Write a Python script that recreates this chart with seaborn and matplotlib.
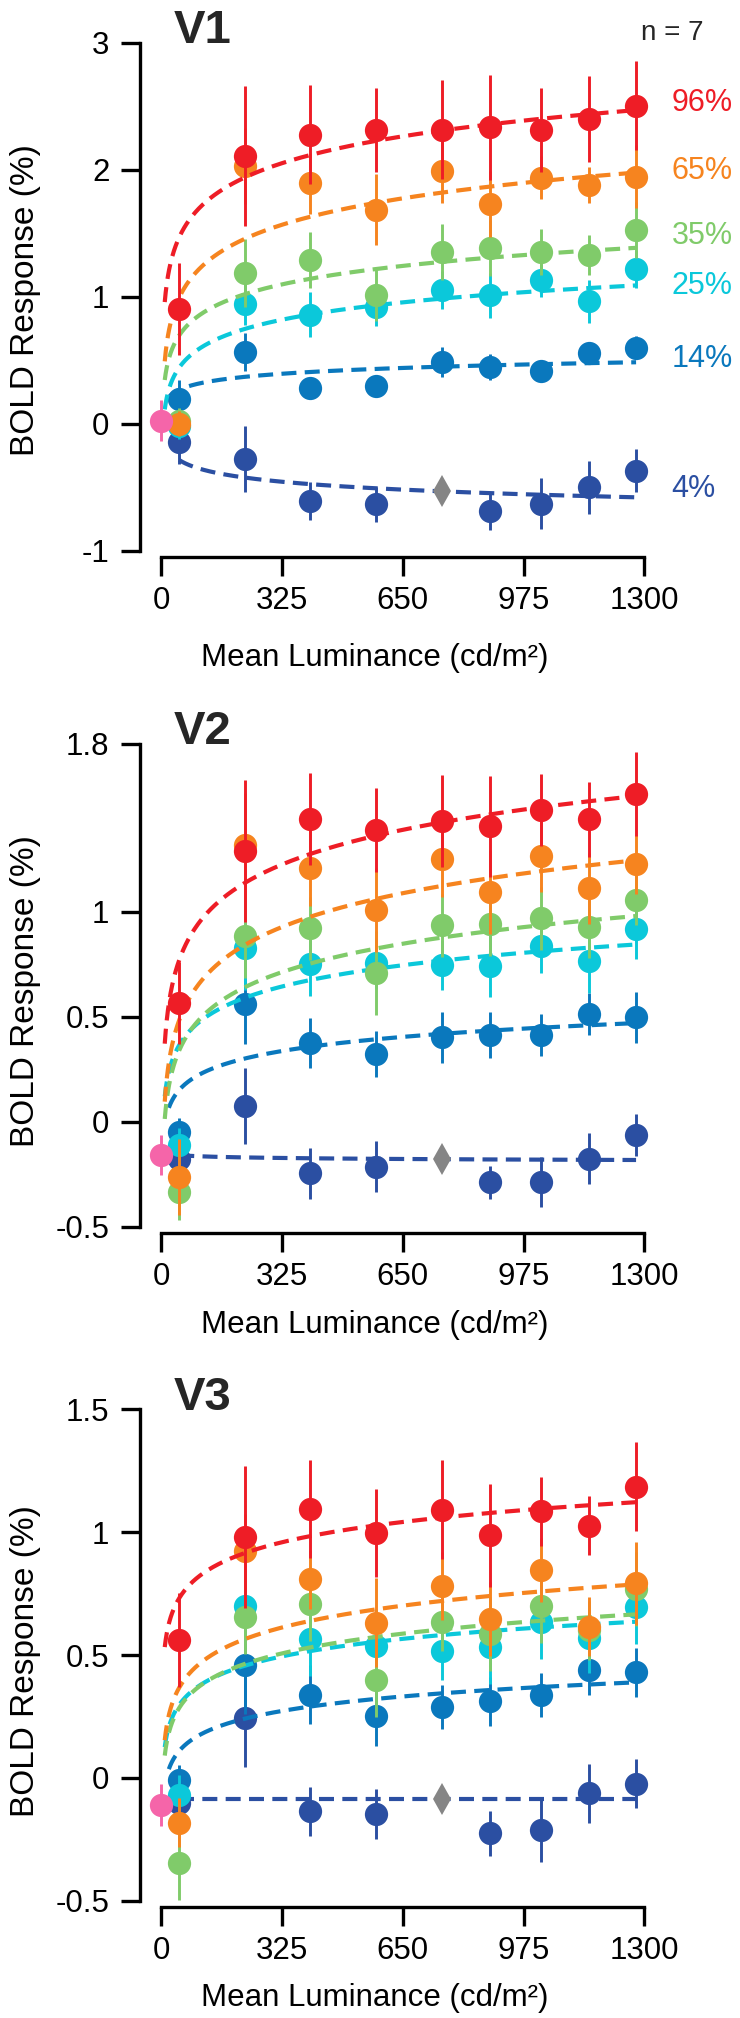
import numpy as np
import seaborn as sns
import matplotlib.pyplot as plt

# luminance levels (cd/m2) of the measured points
lum = [48, 225, 401, 578, 756, 884, 1022, 1150, 1278]
contrasts = ["4%", "14%", "25%", "35%", "65%", "96%"]
colors = ["#2B4FA2", "#0A78BD", "#0BC8DA", "#80CB6A", "#F6841F", "#EE1D26"]
nan = np.nan

# V1 mean BOLD response (%) per contrast, and SEM
v1_mean = [
    [-0.145, -0.276, -0.61, -0.635, nan, -0.688, -0.63, -0.50, -0.37],
    [0.197, 0.564, 0.283, 0.294, 0.485, 0.448, 0.417, 0.555, 0.60],
    [-0.02, 0.945, 0.86, 0.918, 1.05, 1.01, 1.13, 0.965, 1.218],
    [0.02, 1.186, 1.29, 1.01, 1.35, 1.385, 1.355, 1.328, 1.527],
    [0.0, 2.03, 1.895, 1.685, 1.99, 1.73, 1.936, 1.88, 1.945],
    [0.905, 2.107, 2.275, 2.31, 2.315, 2.333, 2.31, 2.40, 2.505],
]
v1_err = [
    [0.17, 0.26, 0.15, 0.14, nan, 0.15, 0.2, 0.21, 0.17],
    [0.15, 0.15, 0.05, 0.05, 0.12, 0.1, 0.07, 0.08, 0.09],
    [0.1, 0.17, 0.18, 0.15, 0.15, 0.18, 0.13, 0.17, 0.15],
    [0.1, 0.27, 0.22, 0.2, 0.22, 0.22, 0.18, 0.16, 0.22],
    [0.1, 0.3, 0.24, 0.28, 0.25, 0.26, 0.17, 0.14, 0.25],
    [0.36, 0.55, 0.39, 0.33, 0.39, 0.41, 0.33, 0.34, 0.35],
]

# V2
v2_mean = [
    [-0.175, 0.075, -0.246, -0.214, nan, -0.289, -0.286, -0.175, -0.063],
    [-0.05, 0.559, 0.376, 0.322, 0.402, 0.413, 0.413, 0.513, 0.497],
    [-0.111, 0.826, 0.75, 0.754, 0.746, 0.743, 0.837, 0.765, 0.916],
    [-0.333, 0.884, 0.921, 0.71, 0.937, 0.94, 0.969, 0.929, 1.056],
    [-0.262, 1.317, 1.21, 1.008, 1.252, 1.095, 1.265, 1.111, 1.227],
    [0.564, 1.29, 1.441, 1.389, 1.433, 1.408, 1.484, 1.44, 1.56],
]
v2_err = [
    [0.08, 0.18, 0.12, 0.12, nan, 0.08, 0.12, 0.12, 0.1],
    [0.07, 0.19, 0.12, 0.11, 0.12, 0.11, 0.1, 0.1, 0.12],
    [0.08, 0.2, 0.15, 0.12, 0.12, 0.15, 0.13, 0.15, 0.14],
    [0.135, 0.2, 0.15, 0.2, 0.15, 0.15, 0.15, 0.15, 0.12],
    [0.18, 0.25, 0.18, 0.2, 0.18, 0.2, 0.17, 0.17, 0.14],
    [0.195, 0.337, 0.22, 0.2, 0.22, 0.24, 0.17, 0.18, 0.2],
]

# V3
v3_mean = [
    [-0.104, 0.245, -0.135, -0.147, nan, -0.226, -0.212, -0.063, -0.023],
    [-0.007, 0.46, 0.339, 0.25, 0.288, 0.312, 0.339, 0.439, 0.43],
    [-0.07, 0.70, 0.565, 0.538, 0.518, 0.531, 0.636, 0.568, 0.696],
    [-0.345, 0.653, 0.707, 0.399, 0.636, 0.585, 0.70, 0.60, 0.77],
    [-0.182, 0.923, 0.808, 0.632, 0.781, 0.646, 0.846, 0.615, 0.792],
    [0.561, 0.981, 1.094, 0.997, 1.092, 0.988, 1.085, 1.027, 1.186],
]
v3_err = [
    [0.1, 0.2, 0.1, 0.1, nan, 0.09, 0.13, 0.12, 0.1],
    [0.06, 0.2, 0.12, 0.12, 0.09, 0.1, 0.09, 0.1, 0.1],
    [0.08, 0.15, 0.15, 0.15, 0.12, 0.15, 0.15, 0.14, 0.15],
    [0.15, 0.15, 0.15, 0.15, 0.12, 0.15, 0.15, 0.12, 0.15],
    [0.1, 0.15, 0.12, 0.18, 0.14, 0.15, 0.13, 0.12, 0.17],
    [0.19, 0.29, 0.2, 0.18, 0.2, 0.21, 0.14, 0.12, 0.18],
]

# log fits: y = a + b * ln(L)
fit_start = [48, 20, 9, 9, 9, 9]
v1_fit_a = [0.06, 0.012, -0.32, -0.117, -0.168, 0.288]
v1_fit_b = [-0.0894, 0.066, 0.197, 0.21, 0.30, 0.305]
v2_fit_a = [-0.132, -0.224, -0.2, -0.415, -0.414, -0.151]
v2_fit_b = [-0.007, 0.097, 0.146, 0.195, 0.232, 0.238]
v3_fit_a = [-0.084, -0.219, -0.101, -0.164, -0.128, 0.271]
v3_fit_b = [0.0, 0.085, 0.103, 0.116, 0.128, 0.119]

# blank (0 cd/m2) and reference condition
blank_mean = [0.025, -0.157, -0.109]
blank_err = [0.16, 0.095, 0.085]
ref_lum = 756
ref_mean = [-0.53, -0.179, -0.084]

v1_label_y = [-0.517, 0.506, 1.081, 1.475, 1.987, 2.527]

xticks = [0, 325, 650, 975, 1300]
v1_yticks = [-1, 0, 1, 2, 3]
v2_yticks = [-0.5, 0, 0.5, 1, 1.8]
v3_yticks = [-0.5, 0, 0.5, 1, 1.5]
v1_yticklabels = ["-1", "0", "1", "2", "3"]
v2_yticklabels = ["-0.5", "0", "0.5", "1", "1.8"]
v3_yticklabels = ["-0.5", "0", "0.5", "1", "1.5"]

sns.set_theme(style="ticks")
plt.rcParams["font.family"] = ["Liberation Sans", "DejaVu Sans"]
plt.rcParams["axes.unicode_minus"] = False

fig = plt.figure(figsize=(7.4, 20.18), dpi=100)

panels = [
    ("V1", v1_mean, v1_err, v1_fit_a, v1_fit_b, v1_yticks, v1_yticklabels,
     [0.1892, 0.7271, 0.6814, 0.2517], 0.494, -0.182),
    ("V2", v2_mean, v2_err, v2_fit_a, v2_fit_b, v2_yticks, v2_yticklabels,
     [0.1892, 0.3921, 0.6814, 0.2393], 0.489, -0.173),
    ("V3", v3_mean, v3_err, v3_fit_a, v3_fit_b, v3_yticks, v3_yticklabels,
     [0.1892, 0.0581, 0.6814, 0.2435], 0.487, -0.168),
]

for k, (name, mean, err, fa, fb, yt, ytl, rect, ylab_y, xlab_y) in enumerate(panels):
    ax = fig.add_axes(rect)
    for i, c in enumerate(colors):
        xs = np.geomspace(fit_start[i], lum[-1], 200)
        ys = fa[i] + fb[i] * np.log(xs)
        sns.lineplot(x=xs, y=ys, color=c, linewidth=3.0, linestyle=(0, (3.6, 2.0)),
                     ax=ax, zorder=3 + i, legend=False)
        ax.errorbar(lum, mean[i], yerr=err[i], fmt="none", ecolor=c, elinewidth=2.1,
                    capsize=0, zorder=3 + i + 0.1, clip_on=False)
        sns.scatterplot(x=lum, y=mean[i], color=c, s=280, linewidth=0, ax=ax,
                        zorder=3 + i + 0.2, clip_on=False, legend=False)

    ax.errorbar([0], [blank_mean[k]], yerr=[blank_err[k]], fmt="none", ecolor="#F565A9",
                elinewidth=2.1, capsize=0, zorder=10, clip_on=False)
    sns.scatterplot(x=[0], y=[blank_mean[k]], color="#F565A9", s=280, linewidth=0,
                    ax=ax, zorder=10.2, clip_on=False, legend=False)
    ax.plot([ref_lum], [ref_mean[k]], marker="d", markersize=16, color="#858585",
            markeredgewidth=0, zorder=10, clip_on=False)

    ax.set_xlim(-57.6, 1300)
    ax.set_ylim(yt[0], yt[-1])
    ax.set_xticks(xticks)
    ax.set_xticklabels([str(t) for t in xticks])
    ax.set_yticks(yt)
    ax.set_yticklabels(ytl)
    sns.despine(ax=ax)
    ax.spines["bottom"].set_bounds(0, 1300)
    ax.spines["bottom"].set_position(("outward", 4.5))
    ax.spines["left"].set_bounds(yt[0], yt[-1])
    for s in ["left", "bottom"]:
        ax.spines[s].set_linewidth(2.4)
        ax.spines[s].set_color("black")
    ax.tick_params(axis="both", direction="out", length=14, width=2.4, color="black",
                   labelsize=22.5, labelcolor="black")
    ax.tick_params(axis="x", pad=7)
    ax.tick_params(axis="y", pad=8)

    ax.set_ylabel("BOLD Response (%)", fontsize=24, color="black")
    ax.yaxis.set_label_coords(-0.197, ylab_y)
    ax.set_xlabel("Mean Luminance (cd/m²)", fontsize=22.5, color="black")
    ax.xaxis.set_label_coords(0.466, xlab_y)

    ax.text(0.067, 0.999, name, transform=ax.transAxes, fontsize=34, fontweight="bold",
            va="baseline", ha="left")

    if name == "V1":
        ax.text(0.994, 1.005, "n = 7", transform=ax.transAxes, fontsize=20,
                va="baseline", ha="left")
        for i, c in enumerate(colors):
            ax.text(1374, v1_label_y[i], contrasts[i], color=c, fontsize=22,
                    va="center", ha="left", clip_on=False)

fig.savefig("out.png", dpi=100)
